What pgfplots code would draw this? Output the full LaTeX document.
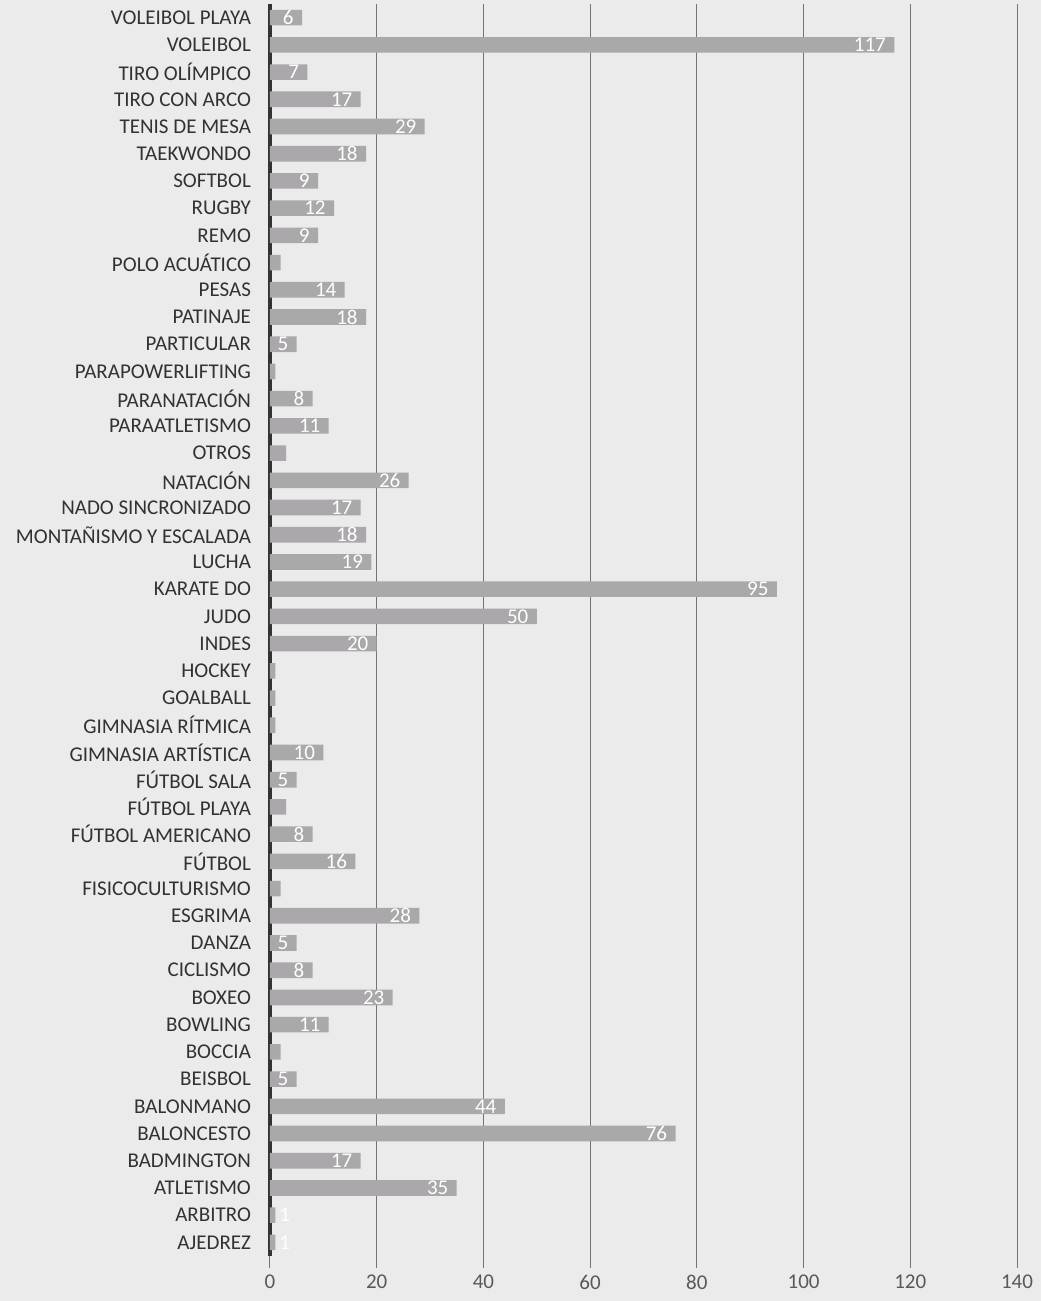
\documentclass[border=0pt]{standalone}
\usepackage{fontspec}
\setmainfont{Carlito}
\usepackage{pgfplots}
\usepackage{pgfplotstable}
\pgfplotsset{compat=1.18}
\definecolor{fondo}{RGB}{236,235,236}
\definecolor{barra}{RGB}{170,168,170}
\definecolor{texto}{RGB}{50,50,50}

% deportes, de arriba hacia abajo
\pgfplotstableread[col sep=comma]{
name,v,lab
VOLEIBOL PLAYA,6,6
VOLEIBOL,117,117
TIRO OLÍMPICO,7,7
TIRO CON ARCO,17,17
TENIS DE MESA,29,29
TAEKWONDO,18,18
SOFTBOL,9,9
RUGBY,12,12
REMO,9,9
POLO ACUÁTICO,2,
PESAS,14,14
PATINAJE,18,18
PARTICULAR,5,5
PARAPOWERLIFTING,1,
PARANATACIÓN,8,8
PARAATLETISMO,11,11
OTROS,3,
NATACIÓN,26,26
NADO SINCRONIZADO,17,17
MONTAÑISMO Y ESCALADA,18,18
LUCHA,19,19
KARATE DO,95,95
JUDO,50,50
INDES,20,20
HOCKEY,1,
GOALBALL,1,
GIMNASIA RÍTMICA,1,
GIMNASIA ARTÍSTICA,10,10
FÚTBOL SALA,5,5
FÚTBOL PLAYA,3,
FÚTBOL AMERICANO,8,8
FÚTBOL,16,16
FISICOCULTURISMO,2,
ESGRIMA,28,28
DANZA,5,5
CICLISMO,8,8
BOXEO,23,23
BOWLING,11,11
BOCCIA,2,
BEISBOL,5,5
BALONMANO,44,44
BALONCESTO,76,76
BADMINGTON,17,17
ATLETISMO,35,35
ARBITRO,1,1
AJEDREZ,1,1
}\deportes

\begin{document}
\begin{tikzpicture}
  % fondo del papel escaneado
  \fill[fondo] (-135pt,-22.5pt) rectangle (385.5pt,628pt);
  \begin{axis}[
      at={(0,0)}, anchor=south west,
      scale only axis,
      width=373.5pt, height=626pt,
      xbar, bar width=7.8pt,
      xmin=0, xmax=140,
      xtick={0,20,...,140},
      ymin=-0.5, ymax=45.5,
      y dir=reverse,
      ytick=data,
      yticklabels from table={\deportes}{name},
      yticklabel style={font=\fontsize{10.5}{12}\selectfont, text=texto},
      xticklabel style={font=\fontsize{10.5}{12}\selectfont, text=black!65},
      /pgf/number format/assume math mode=true,
      xmajorgrids,
      major grid style={black!55, line width=0.5pt},
      axis y line*=left,
      axis x line*=bottom,
      x axis line style={draw=none},
      y axis line style={black!80, line width=1.6pt, -},
      ytick style={draw=none},
      xtick align=outside,
      major tick length=6pt,
      xtick style={black!55, line width=0.5pt},
      nodes near coords,
      point meta=explicit symbolic,
      nodes near coords style={anchor=east, text=white, font=\fontsize{10.5}{12}\selectfont, inner sep=2pt, xshift=-2pt},
      coordinate style/.condition={x<2}{xshift=11.5pt},
    ]
    \addplot[fill=barra, draw=none] table[x=v, y expr=\coordindex, meta=lab] {\deportes};
  \end{axis}
\end{tikzpicture}
\end{document}
